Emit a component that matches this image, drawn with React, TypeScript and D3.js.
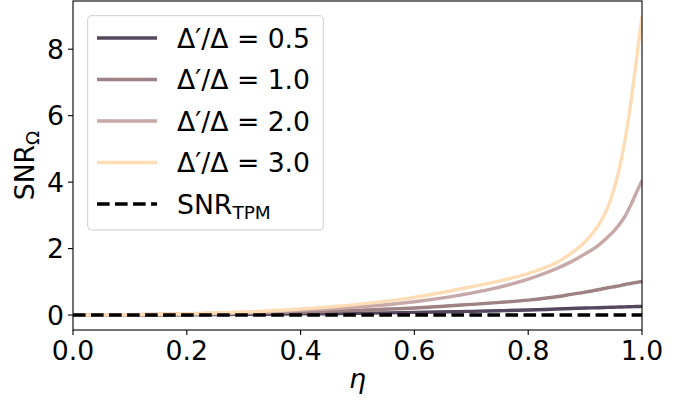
import React from "react";
import * as d3 from "d3";

const etaValues = [0, 0.1, 0.2, 0.3, 0.4, 0.5, 0.6, 0.7, 0.75, 0.8, 0.85, 0.875, 0.9, 0.925, 0.94, 0.95, 0.96, 0.97, 0.98, 0.99, 1.0];
const snrRatio05 = [0, 0.003, 0.01, 0.02, 0.035, 0.05, 0.08, 0.11, 0.13, 0.15, 0.18, 0.195, 0.21, 0.22, 0.23, 0.235, 0.24, 0.245, 0.25, 0.255, 0.26];
const snrRatio10 = [0, 0.005, 0.02, 0.05, 0.09, 0.14, 0.21, 0.32, 0.38, 0.45, 0.55, 0.62, 0.69, 0.77, 0.82, 0.85, 0.88, 0.92, 0.95, 0.98, 1.01];
const snrRatio20 = [0, 0.01, 0.03, 0.07, 0.14, 0.24, 0.4, 0.66, 0.84, 1.08, 1.4, 1.6, 1.84, 2.12, 2.35, 2.52, 2.72, 2.97, 3.3, 3.68, 4.05];
const snrRatio30 = [0, 0.01, 0.04, 0.09, 0.18, 0.32, 0.53, 0.85, 1.03, 1.25, 1.58, 1.85, 2.2, 2.75, 3.25, 3.75, 4.4, 5.25, 6.35, 7.65, 9.0];
const snrTPM = [0, 0];
const tpmEta = [0, 1];
const seriesLabels = ["0.5", "1.0", "2.0", "3.0"];
const seriesColors = ["#54475e", "#9d8183", "#c6a8a7", "#fedcb6"];
const xTicks = [0, 0.2, 0.4, 0.6, 0.8, 1.0];
const yTicks = [0, 2, 4, 6, 8];

const W = 699, H = 403;
const L = 73, R = 642, T = 1, B = 330;
const FONT = "DejaVu Sans, sans-serif";
const FS = 26.67;

export default function App() {
  const x = d3.scaleLinear().domain([0, 1]).range([L, R]);
  const y = d3.scaleLinear().domain([-0.45, 9.45]).range([B, T]);
  const series = [snrRatio05, snrRatio10, snrRatio20, snrRatio30];
  const line = d3
    .line<[number, number]>()
    .x((d) => x(d[0]))
    .y((d) => y(d[1]))
    .curve(d3.curveMonotoneX);
  const lw = 3.4;
  const dash = `${3.7 * lw},${1.6 * lw}`;
  const legX0 = 97, legX1 = 157, legTX = 177;
  const rowY = [38, 79.5, 121, 162.5, 204];

  return (
    <svg width={W} height={H} style={{ position: "absolute", left: 0, top: 0 }} fontFamily={FONT}>
      <rect x={0} y={0} width={W} height={H} fill="#fff" />
      <defs>
        <clipPath id="plotclip">
          <rect x={L} y={T} width={R - L} height={B - T} />
        </clipPath>
      </defs>
      <g clipPath="url(#plotclip)">
        {series.map((s, i) => (
          <path
            key={i}
            d={line(etaValues.map((e, j) => [e, s[j]] as [number, number])) || ""}
            fill="none"
            stroke={seriesColors[i]}
            strokeWidth={lw}
          />
        ))}
        <path
          d={line(tpmEta.map((e, j) => [e, snrTPM[j]] as [number, number])) || ""}
          fill="none"
          stroke="#000"
          strokeWidth={lw}
          strokeDasharray={dash}
        />
      </g>
      <rect x={L} y={T} width={R - L} height={B - T} fill="none" stroke="#000" strokeWidth={1.1} />
      {xTicks.map((t) => (
        <g key={"x" + t}>
          <line x1={x(t)} x2={x(t)} y1={B} y2={B + 5} stroke="#000" strokeWidth={1.1} />
          <text x={x(t)} y={B + 30} textAnchor="middle" fontSize={FS} fill="#000">
            {t.toFixed(1)}
          </text>
        </g>
      ))}
      {yTicks.map((t) => (
        <g key={"y" + t}>
          <line x1={L - 5} x2={L} y1={y(t)} y2={y(t)} stroke="#000" strokeWidth={1.1} />
          <text x={L - 9} y={y(t)} dy="0.36em" textAnchor="end" fontSize={FS} fill="#000">
            {t}
          </text>
        </g>
      ))}
      <text x={(L + R) / 2} y={388} textAnchor="middle" fontSize={FS} fontStyle="italic" fill="#000">
        η
      </text>
      <text transform={`translate(33.5,${(T + B) / 2}) rotate(-90)`} textAnchor="middle" fontSize={FS} fill="#000">
        SNR<tspan fontSize={18.5} dy={5}>Ω</tspan>
      </text>
      <rect x={87.7} y={15.7} width={235.6} height={214.3} rx={4} ry={4} fill="#fff" fillOpacity={0.8} stroke="#cccccc" strokeWidth={1} />
      {seriesLabels.map((lab, i) => (
        <g key={"leg" + i}>
          <line x1={legX0} x2={legX1} y1={rowY[i]} y2={rowY[i]} stroke={seriesColors[i]} strokeWidth={lw} />
          <text x={legTX} y={rowY[i]} dy="0.36em" fontSize={FS} fill="#000" textLength={133} lengthAdjust="spacing">
            Δ′/Δ = {lab}
          </text>
        </g>
      ))}
      <line x1={legX0} x2={legX1} y1={rowY[4]} y2={rowY[4]} stroke="#000" strokeWidth={lw} strokeDasharray={dash} />
      <text x={legTX} y={rowY[4]} dy="0.36em" fontSize={FS} fill="#000">
        SNR<tspan fontSize={18.5} dy={5}>TPM</tspan>
      </text>
    </svg>
  );
}
